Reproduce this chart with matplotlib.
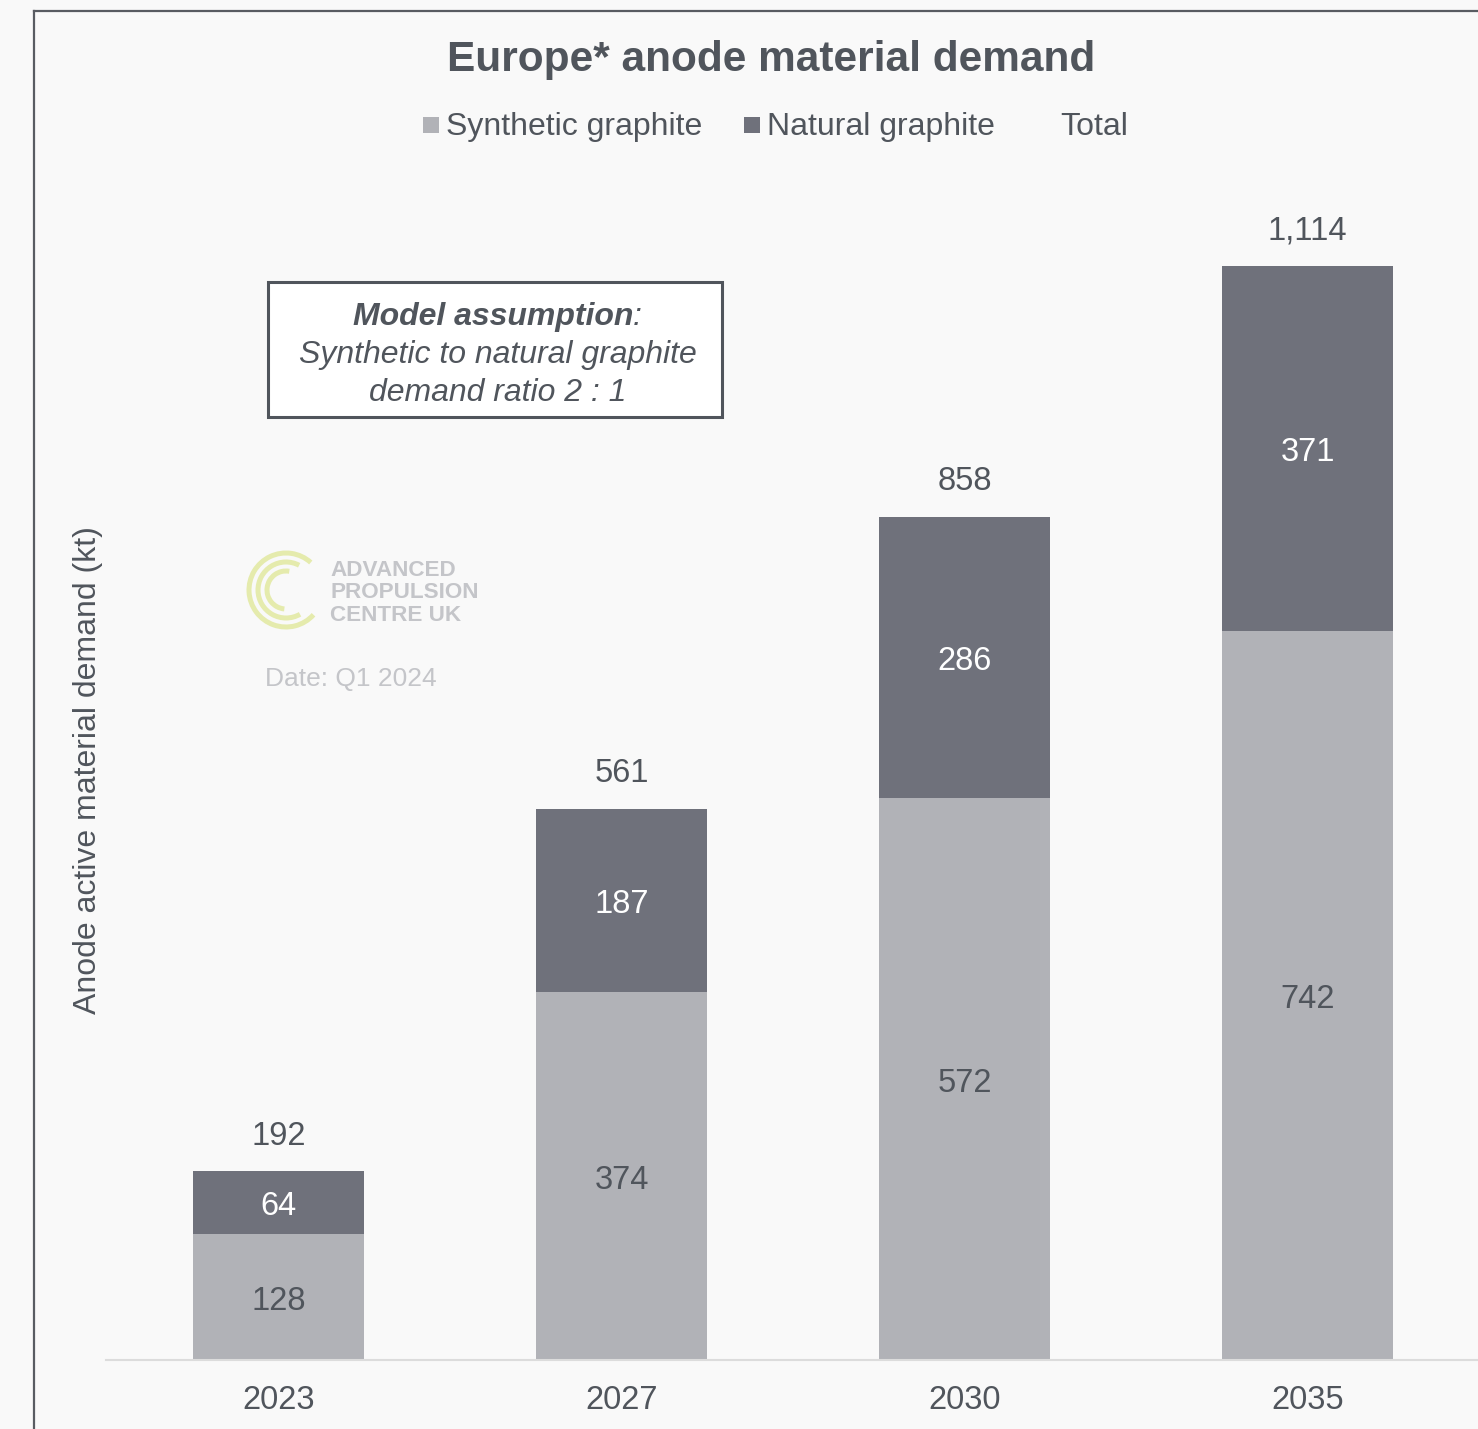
import matplotlib
matplotlib.use('Agg')
import matplotlib.pyplot as plt
from matplotlib.patches import Rectangle, Arc
from matplotlib.lines import Line2D

plt.rcParams['font.family'] = ['Liberation Sans', 'DejaVu Sans']

years = ['2023', '2027', '2030', '2035']
synthetic = [128, 374, 572, 742]
natural = [64, 187, 286, 371]
totals = [192, 561, 858, 1114]

bg = '#f9f9f9'
c_syn = '#b1b2b7'
c_nat = '#6f717b'
txt = '#50555c'
faint = '#c4c5c9'

W, H = 1478, 1429
fig = plt.figure(figsize=(W / 100, H / 100), dpi=100, facecolor=bg)
px = fig.dpi_scale_trans

def P(x, y):
    # pixel position (from top-left) -> inches; +4 px to centre on the glyphs
    return x / 100, (H - y - 4) / 100

ax = fig.add_axes([106 / W, 1 - 1360 / H, 1 - 106 / W, 1179.6 / H])
ax.set_facecolor(bg)
x = range(len(years))
ax.bar(x, synthetic, width=0.5, color=c_syn)
ax.bar(x, natural, width=0.5, bottom=synthetic, color=c_nat)
ax.set_xlim(-0.503, 3.497)
ax.set_ylim(0, 1200)

for i in x:
    ax.annotate(str(synthetic[i]), (i, synthetic[i] / 2), xytext=(0, -3),
                textcoords='offset points', ha='center', va='center',
                fontsize=23.5, color=txt)
    ax.annotate(str(natural[i]), (i, synthetic[i] + natural[i] / 2),
                xytext=(0, -3), textcoords='offset points', ha='center',
                va='center', fontsize=23.5, color='white')
    ax.annotate(f'{totals[i]:,}', (i, synthetic[i] + natural[i]),
                xytext=(0, 25), textcoords='offset points', ha='center',
                va='center', fontsize=23.5, color=txt)

ax.set_xticks(list(x))
ax.set_xticklabels(years, fontsize=23.5, color=txt)
ax.tick_params(axis='x', length=0, pad=18)
ax.set_yticks([])
for s in ['left', 'right', 'top']:
    ax.spines[s].set_visible(False)
ax.spines['bottom'].set_color('#dcdcdc')
ax.spines['bottom'].set_linewidth(1.5)

fig.text(*P(88, 766), 'Anode active material demand (kt)', transform=px,
         rotation=90, ha='center', va='center', fontsize=23, color=txt)

# outer frame
fig.add_artist(Line2D([34 / 100, 34 / 100], [0, (H - 11) / 100], transform=px,
                      color='#595c62', lw=1.6))
fig.add_artist(Line2D([34 / 100, W / 100], [(H - 11) / 100] * 2, transform=px,
                      color='#595c62', lw=1.6))

# title
fig.text(*P(771, 56), 'Europe* anode material demand', transform=px,
         ha='center', va='center', fontsize=30.5, fontweight='bold', color=txt)

# legend
for sx, col in [(423, c_syn), (744, c_nat)]:
    fig.add_artist(Rectangle((sx / 100, (H - 133) / 100), 0.16, 0.16,
                             transform=px, color=col, lw=0))
fig.text(*P(446, 123), 'Synthetic graphite', transform=px, va='center',
         fontsize=23, color=txt)
fig.text(*P(767, 123), 'Natural graphite', transform=px, va='center',
         fontsize=23, color=txt)
fig.text(*P(1060, 123), 'Total', transform=px, va='center',
         fontsize=23, color=txt)

# model assumption box
fig.add_artist(Rectangle((268 / 100, (H - 417) / 100), 4.54, 1.35,
                         transform=px, facecolor='white', edgecolor='#50555c',
                         lw=2.2))
fig.text(*P(633, 313), 'Model assumption', transform=px, ha='right',
         va='center', fontsize=23, fontweight='bold', style='italic', color=txt)
fig.text(*P(633, 313), ':', transform=px, ha='left', va='center',
         fontsize=23, style='italic', color=txt)
fig.text(*P(498, 351), 'Synthetic to natural graphite', transform=px,
         ha='center', va='center', fontsize=23, style='italic', color=txt)
fig.text(*P(498, 389), 'demand ratio 2 : 1', transform=px,
         ha='center', va='center', fontsize=23, style='italic', color=txt)

# watermark logo
cx, cy = 286 / 100, (H - 590) / 100
for r, t1, t2 in [(37, 48, 318), (28, 62, 300), (19, 80, 265)]:
    fig.add_artist(Arc((cx, cy), 2 * r / 100, 2 * r / 100, theta1=t1,
                       theta2=t2, transform=px, color='#e5ebad', lw=3.6))
for k, line in enumerate(['ADVANCED', 'PROPULSION', 'CENTRE UK']):
    fig.text(*P(330, 566 + 23 * k), line, transform=px, va='center',
             fontsize=16.2, fontweight='bold', color=faint)
fig.text(*P(265, 675), 'Date: Q1 2024', transform=px, va='center',
         fontsize=19, color=faint)

fig.savefig('out.png', dpi=100, facecolor=bg)
